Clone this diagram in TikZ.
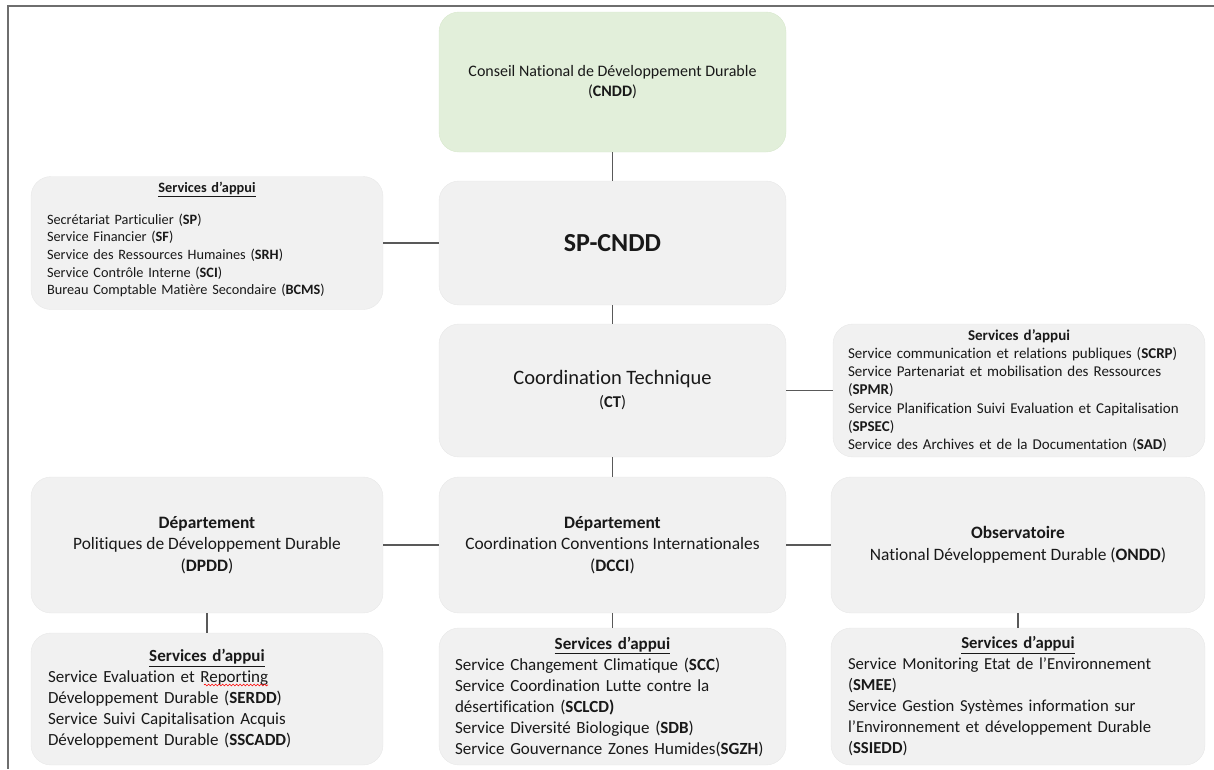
\documentclass[tikz,border=0pt]{standalone}
\usepackage{fontspec}
\setmainfont{Carlito}[Ligatures=NoCommon]
\usepackage{tikz}
\usetikzlibrary{decorations.pathmorphing}

\definecolor{boxgray}{HTML}{F1F1F1}
\definecolor{boxedge}{HTML}{E8E8E8}
\definecolor{boxgreen}{HTML}{E2EFDA}
\definecolor{greenedge}{HTML}{D8E8CD}
\definecolor{linegray}{HTML}{595959}
\definecolor{framegray}{HTML}{6E6E6E}

\newcommand{\hdr}{\underline{\textbf{Services d’appui}}}

\begin{document}
\begin{tikzpicture} [x=1pt, y=-1pt,
    box/.style={draw=boxedge, fill=boxgray, rounded corners=20pt, outer sep=0pt, inner sep=0pt, align=center, text=black!90},
    list/.style={box, align=left, inner xsep=16pt},
    lien/.style={draw=linegray, line width=1.2pt}]
		  \useasboundingbox (0,0) rectangle (1214,769);
		  \draw[framegray, line width=1.8pt] (1214,6) -- (8,6) -- (8,769);

                  % NODES
		  \node[box, fill=boxgreen, draw=greenedge, minimum width=347, minimum height=140, font=\fontsize{16}{20}\selectfont] (cndd) at (612.5,82) {Conseil National de Développement Durable\\(\textbf{CNDD})};
		  \node[box, minimum width=347, minimum height=124, font=\fontsize{26}{30}\selectfont\bfseries] (sp) at (612.5,243) {SP-CNDD};
		  \node[list, text width=320, minimum height=133, font=\fontsize{14.3}{17.7}\selectfont] (appuisp) at (207,243)
		       {\centerline{\hdr}\vspace{14pt}
		        Secrétariat Particulier (\textbf{SP})\\
		        Service Financier (\textbf{SF})\\
		        Service des Ressources Humaines (\textbf{SRH})\\
		        Service Contrôle Interne (\textbf{SCI})\\
		        Bureau Comptable Matière Secondaire (\textbf{BCMS})\par\vspace{7pt}};
		  \node[box, minimum width=347, minimum height=133, font=\fontsize{16.5}{23}\selectfont] (ct) at (612.5,390.5) {{\fontsize{20.5}{23}\selectfont Coordination Technique}\\(\textbf{CT})};
		  \node[list, text width=342, inner xsep=15pt, minimum height=133, font=\fontsize{15}{18.2}\selectfont] (appuict) at (1019,390.5)
		       {\centerline{\textbf{Services d’appui}}
		        Service communication et relations publiques (\textbf{SCRP})\\
		        Service Partenariat et mobilisation des Ressources\\
		        (\textbf{SPMR})\\
		        Service Planification Suivi Evaluation et Capitalisation\\
		        (\textbf{SPSEC})\\
		        Service des Archives et de la Documentation (\textbf{SAD})};
		  \node[box, minimum width=352, minimum height=136, font=\fontsize{17.4}{21.5}\selectfont] (dpdd) at (207,545) {\textbf{Département}\\Politiques de Développement Durable\\(\textbf{DPDD})};
		  \node[box, minimum width=347, minimum height=136, font=\fontsize{17.4}{21.5}\selectfont] (dcci) at (612.5,545) {\textbf{Département}\\Coordination Conventions Internationales\\(\textbf{DCCI})};
		  \node[box, minimum width=374, minimum height=136, font=\fontsize{17.4}{21.5}\selectfont] (ondd) at (1018,545) {\textbf{Observatoire}\\National Développement Durable (\textbf{ONDD})};
		  \node[list, text width=318, inner xsep=17pt, minimum height=132, font=\fontsize{17}{21}\selectfont] (appuidpdd) at (207,699)
		       {\centerline{\hdr}
		        Service Evaluation et Reporting\\
		        Développement Durable (\textbf{SERDD})\\
		        Service Suivi Capitalisation Acquis\\
		        Développement Durable (\textbf{SSCADD})};
		  \node[list, text width=315, minimum height=137, font=\fontsize{17}{21}\selectfont] (appuidcci) at (612.5,696.5)
		       {\centerline{\hdr}
		        Service Changement Climatique (\textbf{SCC})\\
		        Service Coordination Lutte contre la\\
		        désertification (\textbf{SCLCD)}\\
		        Service Diversité Biologique (\textbf{SDB})\\
		        Service Gouvernance Zones Humides(\textbf{SGZH})};
		  \node[list, text width=340, inner xsep=17pt, minimum height=137, font=\fontsize{16.7}{21}\selectfont] (appuiondd) at (1018,696.5)
		       {\centerline{\hdr}
		        Service Monitoring Etat de l’Environnement\\
		        (\textbf{SMEE})\\
		        Service Gestion Systèmes information sur\\
		        l’Environnement et développement Durable\\
		        (\textbf{SSIEDD})};
		  % red spell-check wave under "Reporting"
		  \draw[red, line width=0.6pt, decorate, decoration={snake, amplitude=0.9pt, segment length=3.5pt}]
		       ([shift={(173,52)}]appuidpdd.north west) -- ([shift={(237,52)}]appuidpdd.north west);

                  % LINES:
		  \draw[lien] (cndd) -- (sp);
		  \draw[lien] (appuisp) -- (sp);
		  \draw[lien] (sp) -- (ct);
		  \draw[lien] (ct) -- (appuict);
		  \draw[lien] (ct) -- (dcci);
		  \draw[lien] (dpdd) -- (dcci);
		  \draw[lien] (dcci) -- (ondd);
		  \draw[lien] (dpdd) -- (appuidpdd);
		  \draw[lien] (dcci) -- (appuidcci);
		  \draw[lien] (ondd) -- (appuiondd);
		\end{tikzpicture}
\end{document}
